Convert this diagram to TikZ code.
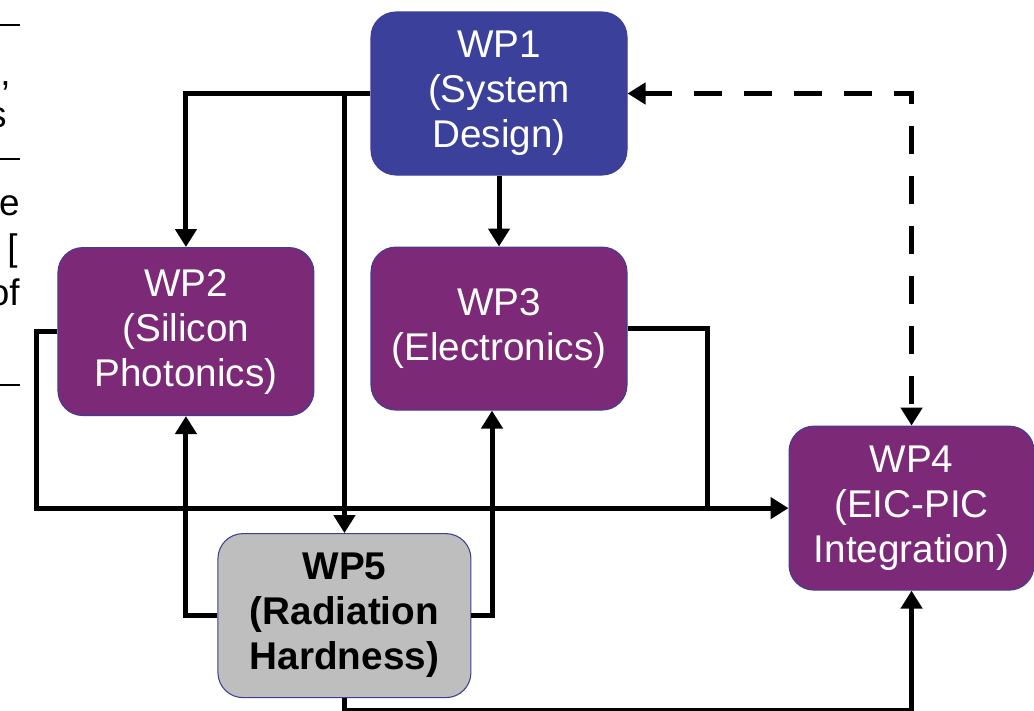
\documentclass[tikz,border=0pt]{standalone}
\usepackage{fontspec}
\setmainfont{Liberation Sans}
\usepackage{xcolor}
\usetikzlibrary{arrows.meta, positioning}
\definecolor{wpblue}{RGB}{59,64,155}
\definecolor{wppurple}{RGB}{124,42,120}
\definecolor{wpgray}{RGB}{190,190,190}
\definecolor{wpedge}{RGB}{62,62,150}

\begin{document}
\begin{tikzpicture}[
    >={Triangle[length=3.6mm, width=4.2mm]},
    box/.style={draw=wpedge, line width=0.6pt, rounded corners=5mm, align=center,
                minimum width=51.2mm, minimum height=32.6mm, inner sep=2pt,
                font=\fontsize{22}{25.6}\selectfont, text=white},
    sys/.style={box, fill=wpblue},
    wp/.style={box, fill=wppurple},
    rad/.style={box, fill=wpgray, text=black, font=\fontsize{22}{25.6}\selectfont\bfseries},
    wire/.style={line width=1mm},
    link/.style={wire, ->},
    dlink/.style={wire, <->, dash pattern=on 5.6mm off 4.4mm},
    frag/.style={anchor=base east, inner sep=0pt, font=\fontsize{21}{25.6}\selectfont},
    rule/.style={line width=0.5mm}]
  \clip (0,0) rectangle (20.68,-14.2);
  % work packages
  \node[sys] (wp1) at (9.98,-1.87) {WP1\\(System\\Design)};
  \node[wp, below=1.42cm of wp1] (wp3) {WP3\\(Electronics)};
  \node[wp, left=1.12cm of wp3, yshift=-0.6mm, minimum height=33.6mm] (wp2) {WP2\\(Silicon\\Photonics)};
  \node[wp, below right=0.3cm and 3.22cm of wp3, minimum width=49mm, minimum height=32.8mm] (wp4) {WP4\\(EIC-PIC\\Integration)};
  \node[rad, below right=2.34cm and 3.2cm of wp2.south west, minimum width=50.6mm, minimum height=32.8mm] (wp5) {WP5\\(Radiation\\Hardness)};
  % clipped page text on the left
  \node[frag] (f1) at (0.22,-1.7) {s,};
  \node[frag] (f2) at (0.14,-2.54) {s};
  \node[frag] (f3) at (0.40,-4.3) {e};
  \node[frag] (f4) at (0.36,-5.2) {. [};
  \node[frag] (f5) at (0.40,-6.1) {of};
  \draw[rule] (0,-0.5) -- (0.4,-0.5);
  \draw[rule] (0,-3.18) -- (0.4,-3.18);
  \draw[rule] (0,-7.7) -- (0.4,-7.7);
  % links
  \draw[link] (wp1.west) -| (wp2.north);
  \draw[link] (wp5.north |- wp1.west) -- (wp5.north);
  \draw[link] (wp1) -- (wp3);
  \draw[dlink] (wp1.east) -| (wp4.north);
  \draw[link] (wp2.west) -- ++(-0.42,0) |- (wp4.west);
  \coordinate (join) at ([xshift=1.6cm]wp3.east |- wp4.west);
  \draw[wire] (wp3.east) -| (join);
  \draw[link] (wp5.west) -| (wp2.south);
  \draw[link] (wp5.east) -| ([xshift=-1.4mm]wp3.south);
  \draw[link] (wp5.south) -- ++(0,-0.24) -| (wp4.south);
\end{tikzpicture}
\end{document}
